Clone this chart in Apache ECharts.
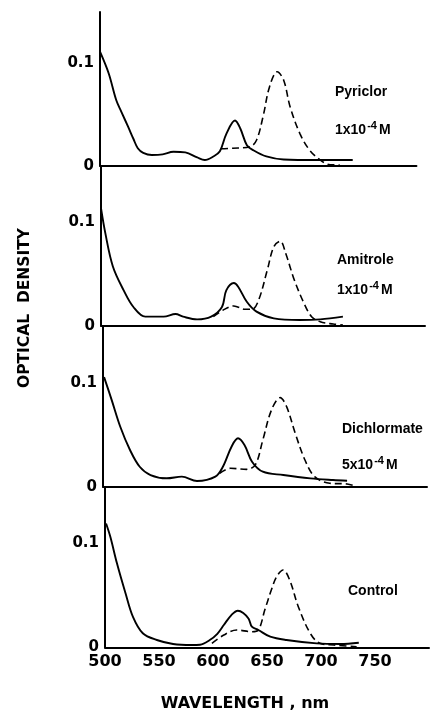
<!DOCTYPE html>
<html><head><meta charset="utf-8">
<script src="https://cdn.jsdelivr.net/npm/echarts@6/dist/echarts.min.js"></script>
<style>html,body{margin:0;padding:0;background:#fff}#c{width:442px;height:715px}</style>
</head><body><div id="c"></div>
<script>
// Panel names and concentrations
const panelNames = ['Pyriclor', 'Amitrole', 'Dichlormate', 'Control'];
const panelConc = ['1x10', '1x10', '5x10', ''];
const xTicks = [500, 550, 600, 650, 700, 750];
const yTicks = [0, 0.1];

// Solid and dashed curves: [wavelength nm, optical density]
const pyriclorSolid = [[500,0.111],[508,0.09],[515,0.064],[520,0.052],[526,0.038],[531,0.026],[535,0.017],[540,0.0125],[548,0.0104],[558,0.011],[568,0.0136],[579,0.013],[590,0.008],[597,0.0055],[605,0.009],[611,0.014],[617,0.031],[625,0.044],[630,0.036],[636,0.020],[642,0.015],[654,0.009],[670,0.006],[701,0.0055],[734,0.0055]];
const pyriclorDashed = [[612,0.0165],[623,0.017],[639,0.0185],[645,0.025],[651,0.048],[657,0.077],[664,0.0915],[670,0.0835],[676,0.0575],[685,0.0315],[694,0.0153],[704,0.0055],[713,0.001],[722,0.0007]];

const amitroleSolid = [[500,0.113],[504,0.089],[511,0.057],[521,0.034],[530,0.018],[541,0.0087],[558,0.0087],[569,0.0112],[576,0.0087],[589,0.0061],[602,0.0087],[612,0.018],[616,0.034],[623,0.041],[627,0.0375],[635,0.023],[644,0.0135],[660,0.0071],[684,0.0055],[703,0.0061],[724,0.0087]];
const amitroleDashed = [[604,0.0087],[613,0.015],[623,0.019],[633,0.0158],[640,0.0158],[646,0.0247],[654,0.0536],[660,0.076],[666,0.0814],[671,0.0696],[679,0.044],[688,0.0215],[695,0.0087],[703,0.0038],[715,0.0016],[724,0.0007]];

const dichlormateSolid = [[501,0.106],[508,0.084],[516,0.058],[525,0.0355],[534,0.0193],[544,0.0113],[559,0.0081],[573,0.0097],[587,0.0055],[604,0.0097],[611,0.0193],[619,0.0387],[625,0.0468],[631,0.0403],[638,0.0242],[648,0.0145],[667,0.0113],[692,0.0081],[713,0.0065],[726,0.0058]];
const dichlormateDashed = [[608,0.013],[618,0.0178],[633,0.0168],[641,0.021],[648,0.0452],[656,0.0742],[664,0.0861],[670,0.0774],[678,0.0516],[687,0.0258],[696,0.0097],[710,0.0033],[726,0.0026],[735,0.0]];

const controlSolid = [[501,0.119],[505,0.106],[511,0.081],[519,0.052],[526,0.029],[535,0.0135],[548,0.007],[563,0.0032],[580,0.0022],[588,0.0025],[597,0.007],[604,0.013],[610,0.0214],[617,0.031],[623,0.0352],[628,0.033],[633,0.0275],[636,0.0198],[642,0.0166],[653,0.0102],[668,0.007],[696,0.0038],[718,0.0032],[735,0.0044]];
const controlDashed = [[599,0.0038],[610,0.0118],[622,0.0166],[636,0.015],[642,0.0166],[648,0.036],[654,0.055],[659,0.068],[665,0.0743],[671,0.0647],[679,0.039],[690,0.0135],[699,0.0038],[712,0.0022],[733,0.0006]];

const solids = [pyriclorSolid, amitroleSolid, dichlormateSolid, controlSolid];
const dashes = [pyriclorDashed, amitroleDashed, dichlormateDashed, controlDashed];

// layout (pixels) per panel
const lefts = [100, 101, 103, 105];
const tops = [12, 166, 326, 487];
const heights = [153.7, 159.7, 160.7, 160.3];
const xMaxes = [793, 800, 800, 800];
const yMaxes = [0.1497, 0.1536, 0.1554, 0.1541];
const PXNM = 1.08;

const FONT = '"Liberation Sans", Arial, sans-serif';
const WFONT = '"DejaVu Sans", sans-serif';
const grid = [], xAxis = [], yAxis = [], series = [];
for (let i = 0; i < 4; i++) {
  grid.push({left: lefts[i], top: tops[i], width: (xMaxes[i] - 500) * PXNM, height: heights[i], containLabel: false});
  const last = i === 3;
  xAxis.push({type: 'value', gridIndex: i, min: 500, max: xMaxes[i], interval: 50,
    axisLine: {show: true, onZero: false, lineStyle: {color: '#000', width: 2}},
    axisTick: {show: false}, splitLine: {show: false},
    axisLabel: {show: last, showMaxLabel: false, color: '#000', fontFamily: WFONT, fontWeight: 'bold', fontSize: 16, margin: 7}
  });
  yAxis.push({type: 'value', gridIndex: i, min: 0, max: yMaxes[i], interval: 0.1,
    axisLine: {show: true, onZero: false, lineStyle: {color: '#000', width: 2}},
    axisTick: {show: false}, splitLine: {show: false},
    axisLabel: {showMaxLabel: false, color: '#000', fontFamily: WFONT, fontWeight: 'bold', fontSize: 15, margin: 6,
      formatter: v => (yTicks.indexOf(Math.round(v * 10) / 10) >= 0 ? String(Math.round(v * 10) / 10) : '')}
  });
  series.push({type: 'line', xAxisIndex: i, yAxisIndex: i, data: solids[i], showSymbol: false, smooth: 0.35,
    lineStyle: {color: '#000', width: 1.9}, silent: true, animation: false});
  series.push({type: 'line', xAxisIndex: i, yAxisIndex: i, data: dashes[i], showSymbol: false, smooth: 0.35,
    lineStyle: {color: '#000', width: 1.6, type: [7, 4]}, silent: true, animation: false});
}

const labelPos = [[335, 93, 128], [337, 261, 288], [342, 430, 463], [348, 592, null]];
const graphic = [];
for (let i = 0; i < 4; i++) {
  graphic.push({type: 'text', left: labelPos[i][0], top: labelPos[i][1] - 8,
    style: {text: panelNames[i], fill: '#000', font: 'bold 14px ' + FONT}});
  if (panelConc[i]) {
    graphic.push({type: 'text', left: labelPos[i][0], top: labelPos[i][2] - 8,
      style: {text: '{a|' + panelConc[i] + '}{s|-4}{a|M}', fill: '#000',
        rich: {a: {font: 'bold 14px ' + FONT, fill: '#000', verticalAlign: 'bottom'},
               s: {font: 'bold 11px ' + FONT, fill: '#000', verticalAlign: 'top', padding: [0, 2, 6, 1]}}}});
  }
}
graphic.push({type: 'text', x: 25, y: 308, rotation: Math.PI / 2,
  style: {text: 'OPTICAL  DENSITY', fill: '#000', font: 'bold 15.5px ' + WFONT, align: 'center', verticalAlign: 'middle'}});
graphic.push({type: 'text', x: 245, y: 704,
  style: {text: 'WAVELENGTH , nm', fill: '#000', font: 'bold 16px ' + WFONT, align: 'center', verticalAlign: 'middle'}});

const chart = echarts.init(document.getElementById('c'), null, {renderer: 'canvas'});
chart.setOption({animation: false, backgroundColor: '#fff', grid, xAxis, yAxis, series, graphic});
</script></body></html>
